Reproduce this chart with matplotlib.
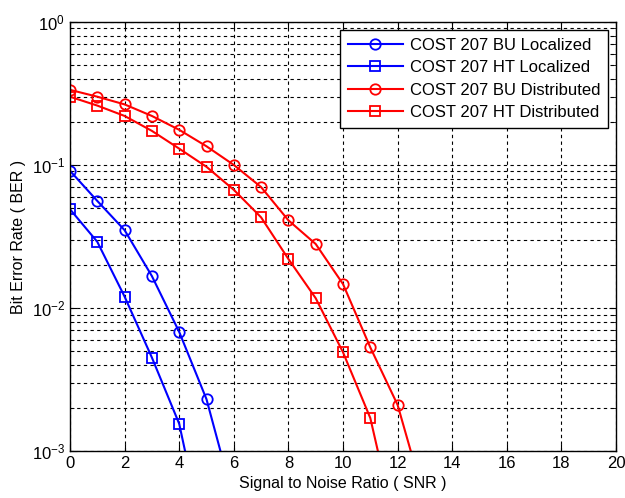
import numpy as np
import matplotlib
matplotlib.use("Agg")
import matplotlib.pyplot as plt
from matplotlib.ticker import LogLocator, MultipleLocator, NullFormatter

plt.rcParams["font.family"] = ["Liberation Sans", "DejaVu Sans"]

snr_bu_loc = [0, 1, 2, 3, 4, 5, 6]
ber_bu_loc = [0.091, 0.056, 0.035, 0.0167, 0.0068, 0.0023, 0.00045]
snr_ht_loc = [0, 1, 2, 3, 4, 5]
ber_ht_loc = [0.049, 0.029, 0.012, 0.0045, 0.00155, 0.0002]
snr_bu_dist = [0, 1, 2, 3, 4, 5, 6, 7, 8, 9, 10, 11, 12, 13]
ber_bu_dist = [0.335, 0.30, 0.265, 0.22, 0.176, 0.135, 0.10, 0.07, 0.041, 0.028,
               0.0147, 0.0053, 0.0021, 0.00045]
snr_ht_dist = [0, 1, 2, 3, 4, 5, 6, 7, 8, 9, 10, 11, 12]
ber_ht_dist = [0.30, 0.26, 0.22, 0.173, 0.13, 0.097, 0.067, 0.043, 0.022, 0.0117,
               0.0049, 0.0017, 0.00025]

labels = ["COST 207 BU Localized", "COST 207 HT Localized",
          "COST 207 BU Distributed", "COST 207 HT Distributed"]

fig = plt.figure(figsize=(6.25, 4.98), dpi=100)
ax = fig.add_axes([0.112, 0.0944, 0.8736, 0.8616])

mk = dict(markerfacecolor="none", markersize=7.5, markeredgewidth=1.3, linewidth=1.5)
ax.semilogy(snr_bu_loc, ber_bu_loc, "-o", color="#0000ff", label=labels[0], **mk)
ax.semilogy(snr_ht_loc, ber_ht_loc, "-s", color="#0000ff", label=labels[1], **mk)
ax.semilogy(snr_bu_dist, ber_bu_dist, "-o", color="#ff0000", label=labels[2], **mk)
ax.semilogy(snr_ht_dist, ber_ht_dist, "-s", color="#ff0000", label=labels[3], **mk)

ax.set_xlim(0, 20)
ax.set_ylim(1e-3, 1)
ax.xaxis.set_major_locator(MultipleLocator(2))
ax.yaxis.set_major_locator(LogLocator(base=10, numticks=10))
ax.yaxis.set_minor_locator(LogLocator(base=10, subs=np.arange(2, 10), numticks=20))
ax.yaxis.set_minor_formatter(NullFormatter())

ax.grid(True, which="major", linestyle=(0, (3, 3)), color="black", linewidth=0.8)
ax.grid(True, which="minor", axis="y", linestyle=(0, (3, 3)), color="black", linewidth=0.8)
ax.tick_params(which="both", direction="in", top=True, right=True, labelsize=12)
ax.tick_params(which="major", length=5)
ax.tick_params(which="minor", length=3)
for s in ax.spines.values():
    s.set_linewidth(1.0)

ax.set_xlabel("Signal to Noise Ratio ( SNR )", fontsize=11.5)
ax.set_ylabel("Bit Error Rate ( BER )", fontsize=11.5)

leg = ax.legend(loc="upper right", fontsize=12, fancybox=False, framealpha=1,
                edgecolor="black", borderaxespad=0.5, handlelength=3.3,
                handletextpad=0.4, labelspacing=0.45, borderpad=0.45)
leg.get_frame().set_linewidth(1.0)

fig.savefig("out.png", dpi=100)
